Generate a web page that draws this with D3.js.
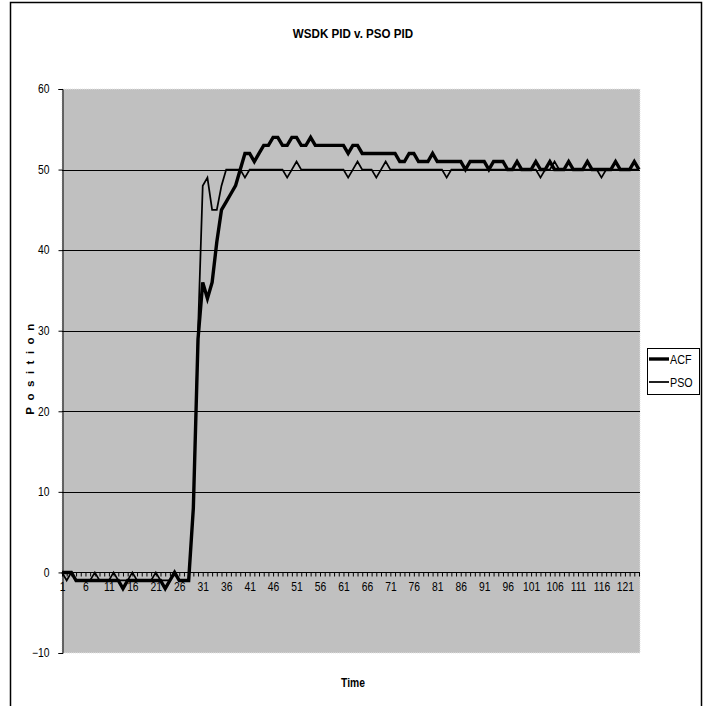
<!DOCTYPE html>
<html>
<head>
<meta charset="utf-8">
<script src="https://cdn.jsdelivr.net/npm/d3@7"></script>
<style>
  body { margin: 0; background: #fff; }
  svg { display: block; }
  text { font-family: "Liberation Sans Narrow", "Arial Narrow", "Liberation Sans", Arial, sans-serif; fill: #000; }
</style>
</head>
<body>
<svg width="707" height="706"></svg>
<script>
// chart values
var title = "WSDK PID v. PSO PID";
var seriesNames = ["ACF", "PSO"];
var yTicks = [-10, 0, 10, 20, 30, 40, 50, 60];

var acf = [0, 0, 0, -1, -1, -1, -1, -1, -1, -1,
  -1, -1, -1, -2, -1, -1, -1, -1, -1, -1,
  -1, -1, -2, -1, 0, -1, -1, -1, 8, 29,
  36, 34, 36, 41, 45, 46, 47, 48, 50, 52,
  52, 51, 52, 53, 53, 54, 54, 53, 53, 54,
  54, 53, 53, 54, 53, 53, 53, 53, 53, 53,
  53, 52, 53, 53, 52, 52, 52, 52, 52, 52,
  52, 52, 51, 51, 52, 52, 51, 51, 51, 52,
  51, 51, 51, 51, 51, 51, 50, 51, 51, 51,
  51, 50, 51, 51, 51, 50, 50, 51, 50, 50,
  50, 51, 50, 50, 51, 50, 50, 50, 51, 50,
  50, 50, 51, 50, 50, 50, 50, 50, 51, 50,
  50, 50, 51, 50];

var pso = [0, -1, 0, -1, -1, -1, -1, 0, -1, -1,
  -1, 0, -1, -1, -1, 0, -1, -1, -1, -1,
  0, -1, -1, -1, 0, -1, -1, -1, 8, 30,
  48, 49, 45, 45, 48, 50, 50, 50, 50, 49,
  50, 50, 50, 50, 50, 50, 50, 50, 49, 50,
  51, 50, 50, 50, 50, 50, 50, 50, 50, 50,
  50, 49, 50, 51, 50, 50, 50, 49, 50, 51,
  50, 50, 50, 50, 50, 50, 50, 50, 50, 50,
  50, 50, 49, 50, 50, 50, 50, 50, 50, 50,
  50, 50, 50, 50, 50, 50, 50, 50, 50, 50,
  50, 50, 49, 50, 50, 51, 50, 50, 50, 50,
  50, 50, 50, 50, 50, 49, 50, 50, 50, 50,
  50, 50, 50, 50];

var time = d3.range(1, acf.length + 1);

var svg = d3.select("svg"),
  plotLeft = 62, plotRight = 639, plotTop = 89, plotBottom = 653,
  squeeze = "scale(0.86,1)";

// outer chart border
svg.append("rect")
  .attr("x", 10.5).attr("y", 2.5)
  .attr("width", 691).attr("height", 720)
  .attr("fill", "#fff").attr("stroke", "#000").attr("stroke-width", 1.5);

var x = d3.scalePoint()
  .domain(time)
  .range([plotLeft, plotRight]);

var y = d3.scaleLinear()
  .domain([-10, 60])
  .range([plotBottom, plotTop]);

// plot area
svg.append("rect")
  .attr("x", plotLeft).attr("y", plotTop)
  .attr("width", plotRight - plotLeft + 1).attr("height", plotBottom - plotTop)
  .attr("fill", "#c0c0c0")
  .attr("stroke", "#e4e4e4").attr("stroke-dasharray", "1,1");

// gridlines
svg.append("g")
  .selectAll("line")
  .data(yTicks.filter(function (d) { return d > 0 && d < 60; }))
  .enter().append("line")
  .attr("x1", plotLeft).attr("x2", plotRight + 1)
  .attr("y1", function (d) { return Math.round(y(d)) + 0.5; })
  .attr("y2", function (d) { return Math.round(y(d)) + 0.5; })
  .attr("stroke", "#000");

// y axis
var yAxis = svg.append("g")
  .attr("transform", "translate(" + (plotLeft + 0.5) + ",0)")
  .call(d3.axisLeft(y).tickValues(yTicks).tickSize(4).tickPadding(3));
yAxis.select(".domain").attr("stroke", "#000");
yAxis.selectAll("text").style("font-size", "12px")
  .attr("transform", "translate(-7,0)" + squeeze);

// x axis, crossing at 0
var xAxis = svg.append("g")
  .attr("transform", "translate(0," + (Math.round(y(0)) + 0.5) + ")")
  .call(d3.axisBottom(x)
    .tickSize(4)
    .tickPadding(6)
    .tickFormat(function (d) { return (d - 1) % 5 === 0 ? d : ""; }));
xAxis.select(".domain").attr("stroke", "#000").attr("d", "M" + plotLeft + ",0H" + (plotRight + 1));
xAxis.selectAll("text").style("font-size", "12px").attr("transform", squeeze);

// series lines
var line = d3.line()
  .x(function (d, i) { return x(time[i]); })
  .y(function (d) { return y(d); });

svg.append("path")
  .datum(pso)
  .attr("fill", "none")
  .attr("stroke", "#000")
  .attr("stroke-width", 1.75)
  .attr("d", line);

svg.append("path")
  .datum(acf)
  .attr("fill", "none")
  .attr("stroke", "#000")
  .attr("stroke-width", 3.4)
  .attr("d", line);

// titles
svg.append("text")
  .attr("transform", "translate(353,38)" + squeeze)
  .attr("text-anchor", "middle")
  .style("font-size", "13.5px").style("font-weight", "bold")
  .text(title);

svg.append("text")
  .attr("transform", "translate(353,687)" + squeeze)
  .attr("text-anchor", "middle")
  .style("font-size", "12px").style("font-weight", "bold")
  .text("Time");

svg.append("text")
  .attr("transform", "translate(34,366)rotate(-90)")
  .attr("text-anchor", "middle")
  .style("font-size", "11.5px").style("font-weight", "bold")
  .style("letter-spacing", "6.5px")
  .text("Position");

// legend
var legend = svg.append("g").attr("transform", "translate(647,348)");
legend.append("rect")
  .attr("x", 0.5).attr("y", 0.5)
  .attr("width", 52).attr("height", 46)
  .attr("fill", "#fff").attr("stroke", "#000");

var item = legend.selectAll(".item")
  .data(seriesNames)
  .enter().append("g")
  .attr("transform", function (d, i) { return "translate(0," + (11 + i * 23) + ")"; });

item.append("line")
  .attr("x1", 2).attr("x2", 22)
  .attr("stroke", "#000")
  .attr("stroke-width", function (d, i) { return i === 0 ? 3.4 : 1.75; });

item.append("text")
  .attr("transform", "translate(23,4.5)" + squeeze)
  .style("font-size", "12.5px")
  .text(function (d) { return d; });
</script>
</body>
</html>
